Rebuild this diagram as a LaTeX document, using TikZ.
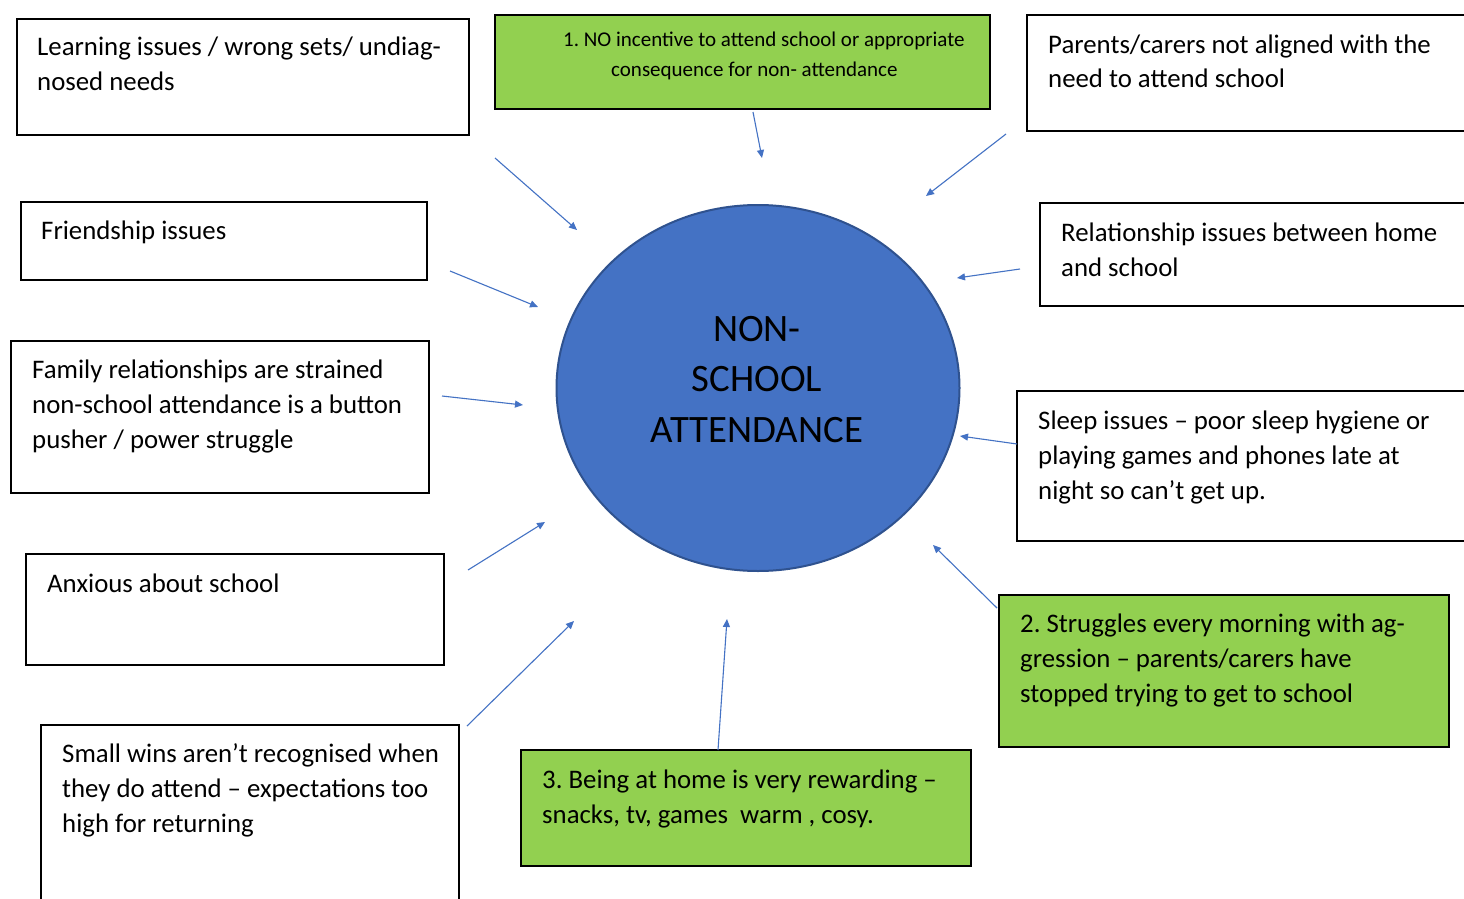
\documentclass[tikz,border=0pt]{standalone}
\usepackage{fontspec}
\setmainfont{Carlito}
\usetikzlibrary{arrows.meta,shapes.geometric}
\definecolor{arrowblue}{HTML}{4472C4}
\definecolor{circfill}{HTML}{4472C4}
\definecolor{circline}{HTML}{2F528F}
\definecolor{boxgreen}{HTML}{92D050}
\frenchspacing
\begin{document}
\begin{tikzpicture}[x=1pt,y=-1pt,
  box/.style={draw=black, line width=1.8pt, anchor=north west, inner sep=0, outer sep=0},
  greenbox/.style={box, fill=boxgreen},
  txt/.style={anchor=base west, inner sep=0, font=\fontsize{26.8}{35}\selectfont},
  smalltxt/.style={anchor=base west, inner sep=0, font=\fontsize{21}{30}\selectfont},
  bigtxt/.style={anchor=base, inner sep=0, font=\fontsize{38.8}{50.5}\selectfont},
  conn/.style={draw=arrowblue, line width=1.1pt, -{Triangle[length=8pt,width=7pt]}}]
\useasboundingbox (0,0) rectangle (1464,899);
\clip (0,0) rectangle (1464,899);
\fill[white] (0,0) rectangle (1464,899);

% boxes
\node[box, minimum width=452pt, minimum height=116pt] (b1) at (17,19) {};
\node[greenbox, minimum width=495pt, minimum height=94pt] (g1) at (495,15) {};
\node[box, minimum width=460pt, minimum height=116pt] (b3) at (1027,15) {};
\node[box, minimum width=406pt, minimum height=78pt] (b4) at (21,202) {};
\node[box, minimum width=450pt, minimum height=103pt] (b5) at (1040,203) {};
\node[box, minimum width=418pt, minimum height=152pt] (b6) at (11,341) {};
\node[box, minimum width=470pt, minimum height=150pt] (b7) at (1017,391) {};
\node[box, minimum width=418pt, minimum height=111pt] (b8) at (26,554) {};
\node[greenbox, minimum width=450pt, minimum height=152pt] (g2) at (999,595) {};
\node[box, minimum width=418pt, minimum height=200pt] (b10) at (41,725) {};
\node[greenbox, minimum width=450pt, minimum height=116pt] (g3) at (521,750) {};

% central ellipse
\node[ellipse, draw=circline, fill=circfill, line width=2pt, inner sep=0,
      minimum width=403pt, minimum height=366pt] (c) at (758,388) {};
\node[bigtxt] (ct) at (757,341) {\begin{tabular}[t]{@{}c@{}}NON-\\SCHOOL\\ATTENDANCE\end{tabular}};

% texts
\node[txt] (t1) at (37,56) {\begin{tabular}[t]{@{}l@{}}Learning issues / wrong sets/ undiag-\\nosed needs\end{tabular}};
\node[smalltxt] (t2) at (563,47) {\begin{tabular}[t]{@{}l@{}}1. NO incentive to attend school or appropriate\\\hspace*{48pt}consequence for non- attendance\end{tabular}};
\node[txt] (t3) at (1048,53) {\begin{tabular}[t]{@{}l@{}}Parents/carers not aligned with the\\need to attend school\end{tabular}};
\node[txt] (t4) at (41,239) {Friendship issues};
\node[txt] (t5) at (1061,241) {\begin{tabular}[t]{@{}l@{}}Relationship issues between home\\and school\end{tabular}};
\node[txt] (t6) at (32,378) {\begin{tabular}[t]{@{}l@{}}Family relationships are strained\\non-school attendance is a button\\pusher / power struggle\end{tabular}};
\node[txt] (t7) at (1038,429) {\begin{tabular}[t]{@{}l@{}}Sleep issues -- poor sleep hygiene or\\playing games and phones late at\\night so can’t get up.\end{tabular}};
\node[txt] (t8) at (47,592) {Anxious about school};
\node[txt] (t9) at (1020,632) {\begin{tabular}[t]{@{}l@{}}2. Struggles every morning with ag-\\gression -- parents/carers have\\stopped trying to get to school\end{tabular}};
\node[txt] (t10) at (62,762) {\begin{tabular}[t]{@{}l@{}}Small wins aren’t recognised when\\they do attend -- expectations too\\high for returning\end{tabular}};
\node[txt] (t11) at (542,788) {\begin{tabular}[t]{@{}l@{}}3. Being at home is very rewarding --\\snacks, tv, games\ \ warm , cosy.\end{tabular}};

% arrow end points
\coordinate (a1s) at (495,158);  \coordinate (a1e) at (577,230);
\coordinate (a2s) at (753,112);  \coordinate (a2e) at (762,158);
\coordinate (a3s) at (1006,134); \coordinate (a3e) at (926,196);
\coordinate (a4s) at (1020,269); \coordinate (a4e) at (957,278);
\coordinate (a5s) at (450,271);  \coordinate (a5e) at (538,307);
\coordinate (a6s) at (442,396);  \coordinate (a6e) at (523,405);
\coordinate (a7s) at (1017,444); \coordinate (a7e) at (960,436);
\coordinate (a8s) at (468,570);  \coordinate (a8e) at (545,522);
\coordinate (a9s) at (997,608);  \coordinate (a9e) at (933,545);
\coordinate (a10s) at (467,726); \coordinate (a10e) at (574,621);
\coordinate (a11s) at (718,750); \coordinate (a11e) at (727,619);

\draw[conn] (a1s) -- (a1e);
\draw[conn] (a2s) -- (a2e);
\draw[conn] (a3s) -- (a3e);
\draw[conn] (a4s) -- (a4e);
\draw[conn] (a5s) -- (a5e);
\draw[conn] (a6s) -- (a6e);
\draw[conn] (a7s) -- (a7e);
\draw[conn] (a8s) -- (a8e);
\draw[conn] (a9s) -- (a9e);
\draw[conn] (a10s) -- (a10e);
\draw[conn] (a11s) -- (a11e);
\end{tikzpicture}
\end{document}
